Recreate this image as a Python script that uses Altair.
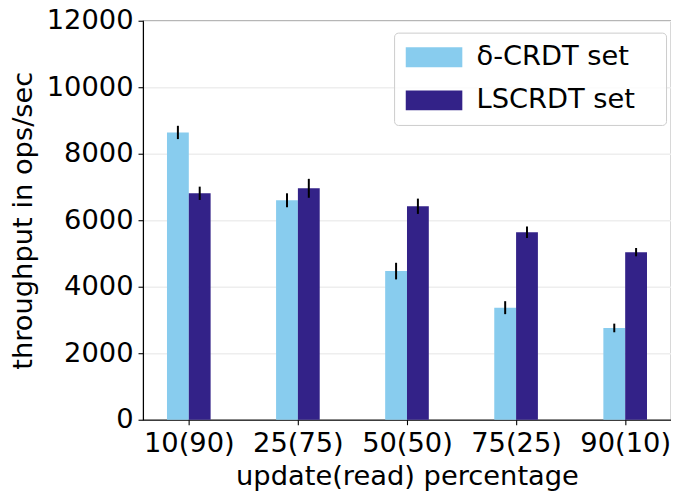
import altair as alt
import pandas as pd

categories = ["10(90)", "25(75)", "50(50)", "75(25)", "90(10)"]
series_names = ["δ-CRDT set", "LSCRDT set"]
delta_vals = [8640, 6600, 4470, 3370, 2760]
delta_err = [200, 210, 250, 195, 130]
ls_vals = [6810, 6960, 6420, 5640, 5040]
ls_err = [200, 285, 230, 175, 125]
y_ticks = [0, 2000, 4000, 6000, 8000, 10000, 12000]
colors = ["#88CCEE", "#332288"]

rows = []
for i, c in enumerate(categories):
    rows.append({"idx": i, "cat": c, "series": series_names[0], "sidx": 0,
                 "val": delta_vals[i], "err": delta_err[i]})
    rows.append({"idx": i, "cat": c, "series": series_names[1], "sidx": 1,
                 "val": ls_vals[i], "err": ls_err[i]})
df = pd.DataFrame(rows)

FONT = "DejaVu Sans"
FS = 27.5
label_js = "[" + ",".join("'" + c + "'" for c in categories) + "]"

base = alt.Chart(df).transform_calculate(
    x0="datum.idx + (datum.sidx - 1) * 0.2",
    x1="datum.idx + datum.sidx * 0.2",
    xc="datum.idx + (datum.sidx - 0.5) * 0.2",
    lo="datum.val - datum.err",
    hi="datum.val + datum.err",
)

xscale = alt.Scale(domain=[-0.42, 4.42], nice=False, zero=False)
yscale = alt.Scale(domain=[0, 12000], nice=False)

bars = base.mark_rect().encode(
    x=alt.X("x0:Q", scale=xscale,
            axis=alt.Axis(values=list(range(len(categories))),
                          labelExpr=label_js + "[datum.value]",
                          title="update(read) percentage", grid=False)),
    x2="x1:Q",
    y=alt.Y("val:Q", scale=yscale,
            axis=alt.Axis(values=y_ticks, format="d", title="throughput in ops/sec",
                          grid=True)),
    y2=alt.datum(0),
    color=alt.Color("series:N",
                    scale=alt.Scale(domain=series_names, range=colors),
                    legend=alt.Legend(title=None, orient="none", legendX=253, legendY=12,
                                      padding=11, cornerRadius=4,
                                      strokeColor="#cccccc", fillColor="rgba(255,255,255,0.8)",
                                      symbolType="M-2.85,-1H2.85V1H-2.85Z",
                                      symbolSize=400, symbolStrokeWidth=0,
                                      symbolOffset=15.5, labelOffset=29,
                                      labelExpr="datum.label + '\u2800'",
                                      labelLimit=400,
                                      labelFont=FONT, labelFontSize=FS, labelColor="black",
                                      rowPadding=14.5)),
)

err = base.mark_rule(color="black", strokeWidth=2).encode(
    x=alt.X("xc:Q", scale=xscale),
    y=alt.Y("lo:Q", scale=yscale),
    y2="hi:Q",
)

chart = alt.layer(bars, err).properties(
    width=532, height=402,
    padding={"left": 136, "top": 11, "right": 0, "bottom": 72},
    autosize=alt.AutoSizeParams(type="none"),
).configure_view(stroke="black", strokeWidth=1.1).configure_axis(
    labelFont=FONT, labelFontSize=FS, labelColor="black",
    titleFont=FONT, titleFontSize=FS, titleColor="black", titleFontWeight="normal",
    domainColor="black", domainWidth=1.1, tickColor="black", tickWidth=1.1, tickSize=5,
    gridColor="#eeeeee", gridWidth=1.5,
).configure_axisX(labelPadding=5, titlePadding=6, labelAngle=0).configure_axisY(
    labelPadding=5, titlePadding=9)

chart.save("out.html", embed_options={"renderer": "svg", "actions": False})
